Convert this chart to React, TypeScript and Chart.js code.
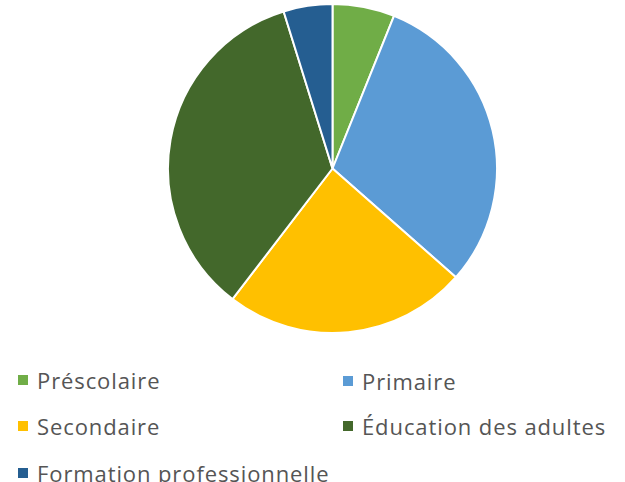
import React, { useEffect, useRef } from "react";
import { Chart, registerables } from "chart.js";

Chart.register(...registerables);

const categories = [
  "Préscolaire",
  "Primaire",
  "Secondaire",
  "Éducation des adultes",
  "Formation professionnelle",
];
const values = [6.1, 30.4, 23.9, 34.8, 4.8];
const colors = ["#70AD47", "#5B9BD5", "#FFC000", "#43682B", "#255E91"];

// legend layout: [left, top] of each item's marker
const legendPos: [number, number][] = [
  [18, 375],
  [343, 376],
  [18, 421],
  [343, 421],
  [18, 468],
];

export default function App() {
  const ref = useRef<HTMLCanvasElement | null>(null);

  useEffect(() => {
    if (!ref.current) return;
    const chart = new Chart(ref.current, {
      type: "pie",
      data: {
        labels: categories,
        datasets: [
          {
            data: values,
            backgroundColor: colors,
            borderColor: "#ffffff",
            borderWidth: 2,
          },
        ],
      },
      options: {
        animation: false,
        responsive: false,
        maintainAspectRatio: false,
        layout: { padding: 0 },
        plugins: {
          legend: { display: false },
          tooltip: { enabled: false },
        },
      },
    });
    return () => chart.destroy();
  }, []);

  return (
    <div
      style={{
        position: "absolute",
        left: 0,
        top: 0,
        width: 625,
        height: 482,
        background: "#ffffff",
        overflow: "hidden",
        fontFamily: "'Open Sans', sans-serif",
      }}
    >
      <canvas
        ref={ref}
        width={331}
        height={331}
        style={{ position: "absolute", left: 167, top: 3, width: 331, height: 331 }}
      />
      {categories.map((c, i) => (
        <div
          key={c}
          style={{
            position: "absolute",
            left: legendPos[i][0],
            top: legendPos[i][1] - 7,
            height: 24,
            display: "flex",
            alignItems: "center",
            whiteSpace: "nowrap",
          }}
        >
          <span
            style={{
              display: "inline-block",
              width: 10,
              height: 10,
              background: colors[i],
              marginRight: 9,
            }}
          />
          <span
            style={{
              fontSize: 22,
              lineHeight: "24px",
              letterSpacing: "0.9px",
              color: "#555555",
            }}
          >
            {c}
          </span>
        </div>
      ))}
    </div>
  );
}
